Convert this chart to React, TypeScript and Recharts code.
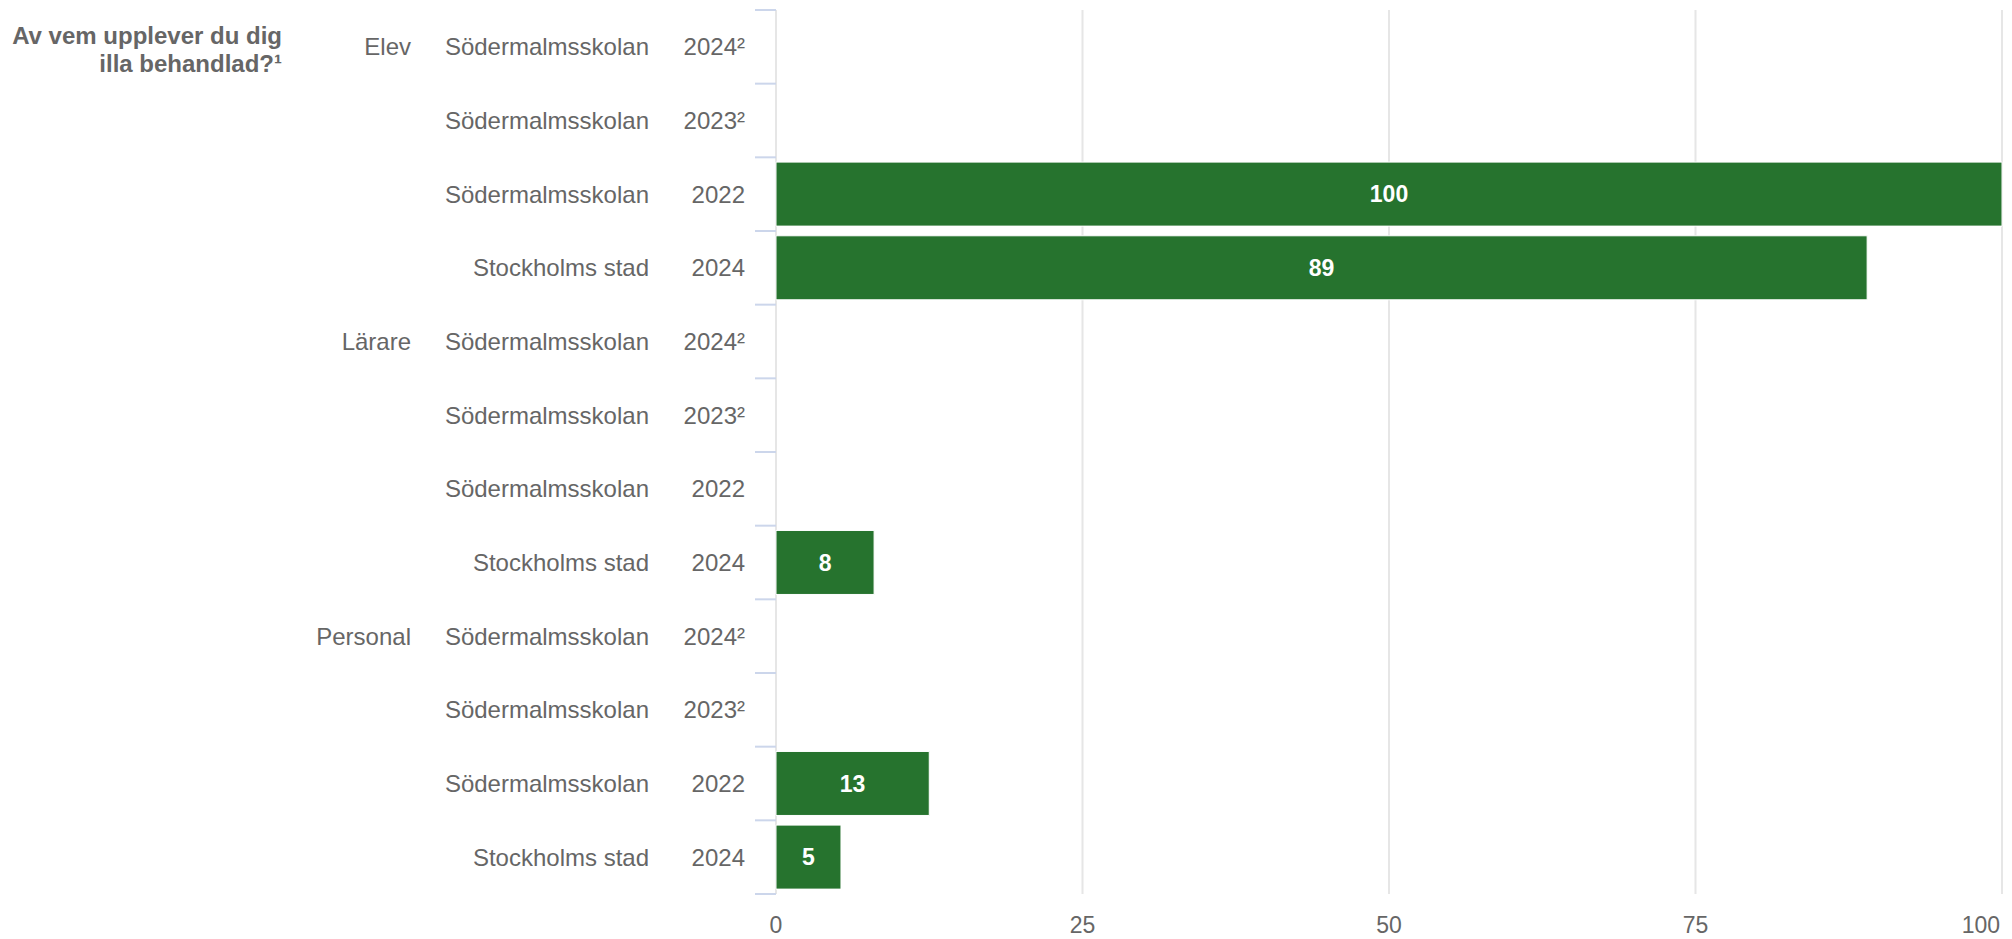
import { Bar, BarChart, CartesianGrid, LabelList, XAxis, YAxis } from "recharts"

const respondents = ["Elev", "Elev", "Elev", "Elev", "Lärare", "Lärare", "Lärare", "Lärare", "Personal", "Personal", "Personal", "Personal"]
const schools = [
  "Södermalmsskolan",
  "Södermalmsskolan",
  "Södermalmsskolan",
  "Stockholms stad",
  "Södermalmsskolan",
  "Södermalmsskolan",
  "Södermalmsskolan",
  "Stockholms stad",
  "Södermalmsskolan",
  "Södermalmsskolan",
  "Södermalmsskolan",
  "Stockholms stad",
]
const years = ["2024²", "2023²", "2022", "2024", "2024²", "2023²", "2022", "2024", "2024²", "2023²", "2022", "2024"]
const values: (number | null)[] = [null, null, 100, 89, null, null, null, 8, null, null, 12.5, 5.3]
const xTicks = [0, 25, 50, 75, 100]

const data = values.map((value, i) => ({ id: i, value }))

const FONT = "'Liberation Sans', Arial, Helvetica, sans-serif"
const TEXT = "#666666"

function CategoryTick(props: any) {
  const { x, y, payload } = props
  const i = payload.value as number
  const half = payload.offset ?? 0
  const showGroup = i === 0 || respondents[i] !== respondents[i - 1]
  return (
    <g fontFamily={FONT} fontSize={24} fill={TEXT}>
      <line x1={x - 21} x2={x} y1={y - half} y2={y - half} stroke="#ccd6eb" strokeWidth={2} />
      {i === values.length - 1 && (
        <line x1={x - 21} x2={x} y1={y + half} y2={y + half} stroke="#ccd6eb" strokeWidth={2} />
      )}
      {i === 0 && (
        <text textAnchor="end" fontWeight="bold" fill={TEXT}>
          <tspan x={x - 494} y={y - 11} dominantBaseline="central">Av vem upplever du dig</tspan>
          <tspan x={x - 494} y={y + 17} dominantBaseline="central">illa behandlad?¹</tspan>
        </text>
      )}
      {showGroup && (
        <text x={x - 365} y={y} textAnchor="end" dominantBaseline="central" fill={TEXT}>
          {respondents[i]}
        </text>
      )}
      <text x={x - 127} y={y} textAnchor="end" dominantBaseline="central" fill={TEXT}>
        {schools[i]}
      </text>
      <text x={x - 31} y={y} textAnchor="end" dominantBaseline="central" fill={TEXT}>
        {years[i]}
      </text>
    </g>
  )
}

function ValueTick(props: any) {
  const { x, y, payload } = props
  const last = payload.value === xTicks[xTicks.length - 1]
  return (
    <text
      x={x}
      y={y + 29}
      textAnchor={last ? "end" : "middle"}
      dominantBaseline="central"
      fontFamily={FONT}
      fontSize={23}
      fill={TEXT}
    >
      {payload.value}
    </text>
  )
}

export default function App() {
  return (
    <div style={{ position: "absolute", left: 0, top: 0, background: "#fff" }}>
      <BarChart
        width={2012}
        height={939}
        data={data}
        layout="vertical"
        margin={{ top: 10, right: 10, bottom: 0, left: 0 }}
        barCategoryGap="6.5%"
      >
        <CartesianGrid horizontal={false} stroke="#e6e6e6" strokeWidth={2} />
        <XAxis
          type="number"
          domain={[0, 100]}
          ticks={xTicks}
          axisLine={false}
          tickLine={false}
          tickSize={0}
          tick={<ValueTick />}
          height={45}
        />
        <YAxis
          type="category"
          dataKey="id"
          width={776}
          interval={0}
          axisLine={false}
          tickLine={false}
          tickSize={0}
          tickMargin={0}
          tick={<CategoryTick />}
        />
        <Bar dataKey="value" fill="#26732e" stroke="#ffffff" strokeWidth={1} isAnimationActive={false}>
          <LabelList
            dataKey="value"
            position="center"
            fill="#ffffff"
            fontFamily={FONT}
            fontSize={23}
            fontWeight="bold"
            formatter={(v: any) => (v == null ? "" : Math.round(Number(v)))}
          />
        </Bar>
      </BarChart>
    </div>
  )
}
